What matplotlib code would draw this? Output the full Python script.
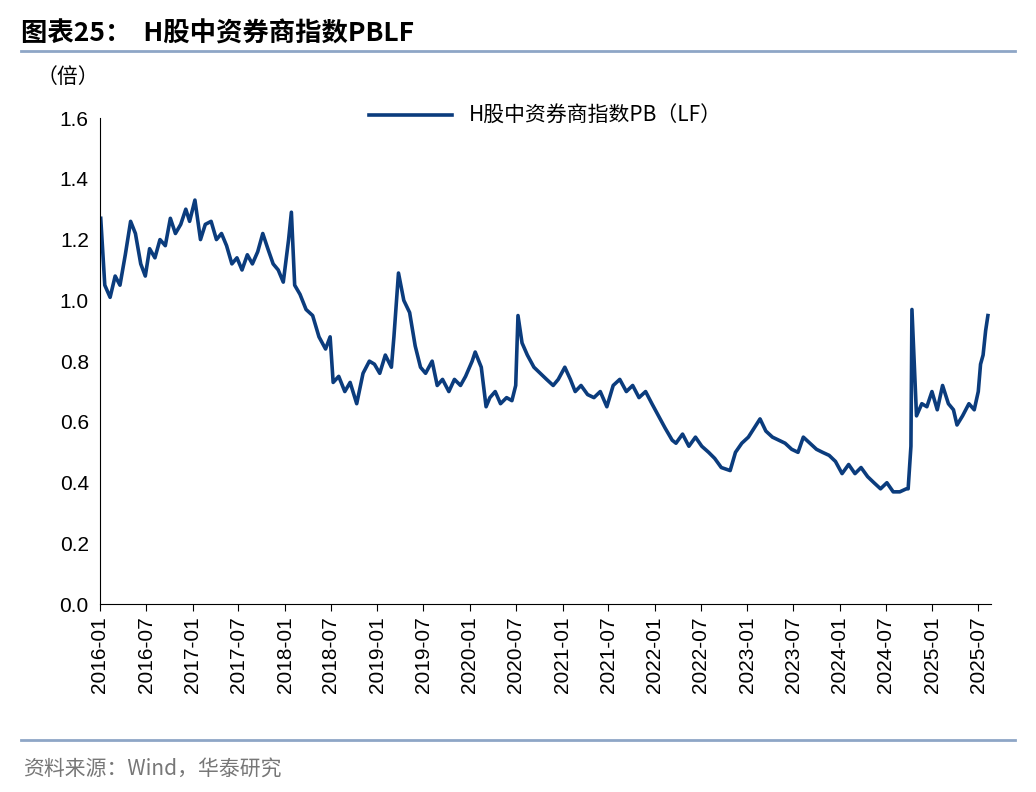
import matplotlib
matplotlib.use("Agg")
import matplotlib.pyplot as plt
import pandas as pd

plt.rcParams["font.family"] = ["Noto Sans CJK SC"]

dates = ["2016-01-04","2016-01-20","2016-02-10","2016-03-01","2016-03-20","2016-04-10","2016-05-01","2016-05-20","2016-06-10","2016-06-28",
"2016-07-15","2016-08-05","2016-08-25","2016-09-15","2016-10-05","2016-10-25","2016-11-15","2016-12-05","2016-12-20",
"2017-01-10","2017-02-01","2017-02-20","2017-03-15","2017-04-05","2017-04-25","2017-05-15","2017-06-05","2017-06-25","2017-07-15",
"2017-08-05","2017-08-25","2017-09-15","2017-10-05","2017-10-25","2017-11-15","2017-12-05","2017-12-25","2018-01-15","2018-01-26",
"2018-02-08","2018-03-01","2018-03-25","2018-04-20","2018-05-15","2018-06-10","2018-06-28","2018-07-10","2018-08-01","2018-08-25",
"2018-09-15","2018-10-11","2018-11-05","2018-11-30","2018-12-20","2019-01-10","2019-02-01","2019-02-25","2019-03-07","2019-03-25",
"2019-04-15","2019-05-08","2019-05-30","2019-06-20","2019-07-10","2019-08-05","2019-08-25","2019-09-15","2019-10-10","2019-11-01",
"2019-11-25","2019-12-15","2020-01-10","2020-01-22","2020-02-15","2020-03-05","2020-03-20","2020-04-10","2020-05-01","2020-05-25",
"2020-06-15","2020-06-30","2020-07-09","2020-07-25","2020-08-15","2020-09-10","2020-10-05","2020-10-30","2020-11-25","2020-12-15",
"2021-01-10","2021-02-01","2021-02-20","2021-03-15","2021-04-10","2021-05-05","2021-05-30","2021-06-25","2021-07-20","2021-08-15",
"2021-09-10","2021-10-05","2021-10-30","2021-11-25","2021-12-20","2022-01-15","2022-02-10","2022-03-10","2022-03-25","2022-04-20",
"2022-05-15","2022-06-10","2022-07-05","2022-08-01","2022-08-25","2022-09-20","2022-10-25","2022-11-15","2022-12-10","2023-01-05",
"2023-01-28","2023-02-20","2023-03-15","2023-04-10","2023-05-05","2023-05-30","2023-06-25","2023-07-20","2023-08-10","2023-09-05",
"2023-10-01","2023-10-25","2023-11-20","2023-12-15","2024-01-10","2024-02-05","2024-03-01","2024-03-25","2024-04-20","2024-05-15",
"2024-06-10","2024-07-05","2024-07-30","2024-08-25","2024-09-20","2024-09-27","2024-10-08","2024-10-12","2024-10-30","2024-11-20",
"2024-12-10","2024-12-30","2025-01-20","2025-02-10","2025-03-05","2025-03-25","2025-04-08","2025-04-30","2025-05-25","2025-06-15",
"2025-07-01","2025-07-10","2025-07-20","2025-07-30","2025-08-08"]
pb = [1.27,1.05,1.01,1.08,1.05,1.15,1.26,1.22,1.12,1.08,
1.17,1.14,1.20,1.18,1.27,1.22,1.25,1.30,1.26,
1.33,1.20,1.25,1.26,1.20,1.22,1.18,1.12,1.14,1.10,
1.15,1.12,1.16,1.22,1.17,1.12,1.10,1.06,1.20,1.29,
1.05,1.02,0.97,0.95,0.88,0.84,0.88,0.73,0.75,0.70,
0.73,0.66,0.76,0.80,0.79,0.76,0.82,0.78,0.88,1.09,
1.00,0.96,0.85,0.78,0.76,0.80,0.72,0.74,0.70,0.74,
0.72,0.75,0.80,0.83,0.78,0.65,0.68,0.70,0.66,0.68,
0.67,0.72,0.95,0.86,0.82,0.78,0.76,0.74,0.72,0.74,
0.78,0.74,0.70,0.72,0.69,0.68,0.70,0.65,0.72,0.74,
0.70,0.72,0.68,0.70,0.66,0.62,0.58,0.54,0.53,0.56,
0.52,0.55,0.52,0.50,0.48,0.45,0.44,0.50,0.53,0.55,
0.58,0.61,0.57,0.55,0.54,0.53,0.51,0.50,0.55,0.53,
0.51,0.50,0.49,0.47,0.43,0.46,0.43,0.45,0.42,0.40,
0.38,0.40,0.37,0.37,0.38,0.38,0.52,0.97,0.62,0.66,
0.65,0.70,0.64,0.72,0.66,0.64,0.59,0.62,0.66,0.64,
0.70,0.79,0.82,0.90,0.95]
xtick_labels = [f"{y}-{m:02d}" for y in range(2016, 2026) for m in (1, 7)]

d = pd.to_datetime(dates)
fig = plt.figure(figsize=(10.36, 7.92), dpi=100)
ax = fig.add_axes([0.0965, 0.237, 0.86, 0.614])
color = "#0B3C7D"
ax.plot(d, pb, color=color, lw=2.6, label="H股中资券商指数PB（LF）")
ax.set_ylim(0, 1.6)
ax.set_yticks([0, 0.2, 0.4, 0.6, 0.8, 1.0, 1.2, 1.4, 1.6])
ax.set_yticklabels([f"{v:.1f}" for v in ax.get_yticks()], fontsize=15, fontfamily="Liberation Sans")
tk = pd.to_datetime([s + "-01" for s in xtick_labels])
ax.set_xlim(pd.Timestamp("2016-01-01"), pd.Timestamp("2025-08-20"))
ax.set_xticks(tk)
ax.set_xticklabels(xtick_labels, rotation=90, fontsize=15, fontfamily="Liberation Sans")
for s in ["top", "right"]:
    ax.spines[s].set_visible(False)
ax.tick_params(axis="y", length=0, pad=8)
ax.tick_params(axis="x", direction="out", length=5)
ax.legend(loc="upper center", bbox_to_anchor=(0.5, 1.065), frameon=False, fontsize=15, handlelength=4)
fig.text(0.035, 0.895, "（倍）", fontsize=15)
fig.text(0.02, 0.948, "图表25：  H股中资券商指数PBLF", fontsize=19, fontweight="bold")
fig.add_artist(plt.Line2D([0.02, 0.98], [0.935, 0.935], color="#8EA6C6", lw=2))
fig.add_artist(plt.Line2D([0.02, 0.98], [0.066, 0.066], color="#8EA6C6", lw=2))
fig.text(0.022, 0.022, "资料来源：Wind，华泰研究", fontsize=15, color="#777777")
fig.savefig("out.png", dpi=100)
